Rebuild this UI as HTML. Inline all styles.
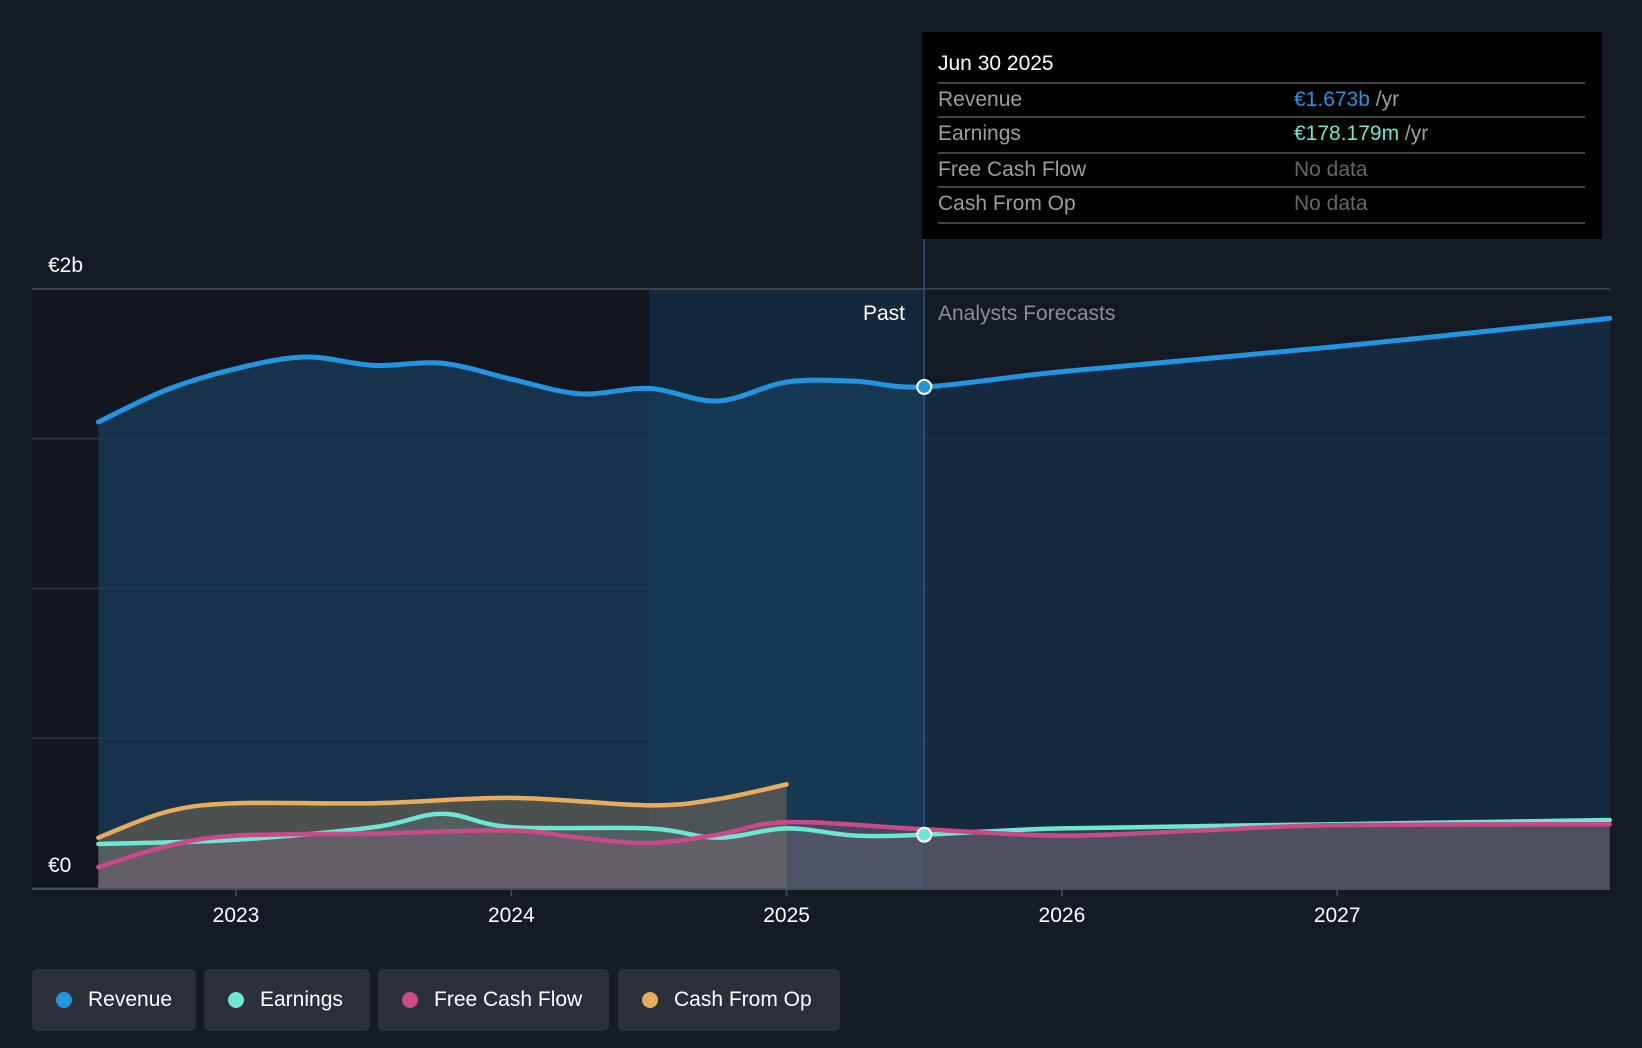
<!DOCTYPE html>
<html><head><meta charset="utf-8"><style>
html,body{margin:0;padding:0;background:#151b24;width:1642px;height:1048px;overflow:hidden;font-family:"Liberation Sans",sans-serif}
svg{position:absolute;left:0;top:0}
.leg{position:absolute;top:969px;height:62px;background:#2a2f39;border-radius:5px;color:#fff;font-size:21px;line-height:62px;box-sizing:border-box;padding-left:56px}
.leg i{position:absolute;left:24px;top:23px;width:16px;height:16px;border-radius:50%}
</style></head><body>
<svg id="chart" width="1642" height="1048"></svg>
<div class="leg" style="left:32px;width:164px"><i style="background:#2394df"></i>Revenue</div>
<div class="leg" style="left:204px;width:166px"><i style="background:#6ee6d2"></i>Earnings</div>
<div class="leg" style="left:378px;width:231px"><i style="background:#c94a86"></i>Free Cash Flow</div>
<div class="leg" style="left:618px;width:222px"><i style="background:#e8ac5e"></i>Cash From Op</div>
<script>
const revT=[2022.5,2022.75,2023,2023.25,2023.5,2023.75,2024,2024.25,2024.5,2024.75,2025,2025.25,2025.5,2026,2027,2027.99];
const revV=[1.556,1.664,1.734,1.773,1.745,1.752,1.699,1.650,1.668,1.626,1.689,1.692,1.673,1.724,1.808,1.902];
const earnT=[2022.5,2023,2023.5,2023.75,2024,2024.5,2024.75,2025,2025.25,2025.5,2026,2027,2027.99];
const earnV=[0.147,0.161,0.203,0.248,0.203,0.199,0.168,0.199,0.175,0.178,0.199,0.213,0.227];
const fcfT=[2022.5,2022.75,2023,2023.5,2024,2024.25,2024.5,2024.75,2025,2025.5,2026,2026.5,2027,2027.99];
const fcfV=[0.07,0.14,0.175,0.182,0.192,0.168,0.150,0.178,0.220,0.196,0.175,0.192,0.21,0.213];
const cfoT=[2023-0.5,2022.75,2023,2023.5,2024,2024.5,2024.75,2025];
const cfoV=[0.168,0.255,0.283,0.283,0.301,0.276,0.297,0.346];
const yTicks=[0,0.5,1,1.5,2];
const xTicks=[2023,2024,2025,2026,2027];
const NS='http://www.w3.org/2000/svg';
const svg=document.getElementById('chart');
const X=t=>236+(t-2023)*275.3;
const Y=v=>888-v*299.5;
function el(tag,a,txt){const e=document.createElementNS(NS,tag);for(const k in a)e.setAttribute(k,a[k]);if(txt!=null)e.textContent=txt;svg.appendChild(e);return e;}
function path(T,V){const p=T.map((t,i)=>[X(t),Y(V[i])]);let d='M'+p[0][0]+','+p[0][1];
for(let i=0;i<p.length-1;i++){const p0=p[i-1]||p[i],p1=p[i],p2=p[i+1],p3=p[i+2]||p2;
d+=` C${p1[0]+(p2[0]-p0[0])/6},${p1[1]+(p2[1]-p0[1])/6} ${p2[0]-(p3[0]-p1[0])/6},${p2[1]-(p3[1]-p1[1])/6} ${p2[0]},${p2[1]}`;}return d;}
const defs=el('defs',{});
defs.innerHTML='<linearGradient id="gr" x1="0" y1="0" x2="0" y2="1"><stop offset="0" stop-color="#1d4d75" stop-opacity=".85"/><stop offset="1" stop-color="#1d4d75" stop-opacity=".55"/></linearGradient><linearGradient id="gf" x1="0" y1="0" x2="0" y2="1"><stop offset="0" stop-color="#1a2a3c"/><stop offset="1" stop-color="#2a3444"/></linearGradient>';
// past dark area
let r=el('rect',{x:32,y:289,width:X(2025.5)-32,height:599,fill:'#12161f'});
r=el('rect',{x:X(2024.5),y:289,width:X(2025.5)-X(2024.5),height:599,fill:'#13283b'});
// grid
yTicks.forEach(v=>{const g=el('line',{x1:32,x2:1610,y1:Y(v),y2:Y(v),stroke:v==2?'#4a505a':'#2c3644','stroke-width':1.5});});
// revenue area
const rp=path(revT,revV);
let a=el('path',{d:rp+` L${X(revT[revT.length-1])},888 L${X(revT[0])},888Z`,fill:'#1a3d5c','fill-opacity':.75});
a=el('rect',{x:X(2025.5),y:289,width:1610-X(2025.5),height:599,fill:'#151b24','fill-opacity':.35});

// other areas
[[cfoT,cfoV,'#a98a55',.35,'cash-from-op-area'],[earnT,earnV,'#6a8a86',.25,'earnings-area'],[fcfT,fcfV,'#7a6070',.45,'free-cash-flow-area']].forEach(s=>{
const e=el('path',{d:path(s[0],s[1])+` L${X(s[0][s[0].length-1])},888 L${X(s[0][0])},888Z`,fill:s[2],'fill-opacity':s[3]});
});
// lines
[[cfoT,cfoV,'#e8ac5e','cash-from-op-line'],[earnT,earnV,'#6ee6d2','earnings-line'],[fcfT,fcfV,'#c94a86','free-cash-flow-line'],[revT,revV,'#2394df','revenue-line']].forEach(s=>{
const e=el('path',{d:path(s[0],s[1]),fill:'none',stroke:s[2],'stroke-width':s[3]=='revenue-line'?5:4.5,'stroke-linecap':'round'});
});
// divider
let d=el('line',{x1:X(2025.5),x2:X(2025.5),y1:239,y2:888,stroke:'#2a5478','stroke-width':1.5});
// axis
d=el('line',{x1:32,x2:1610,y1:889,y2:889,stroke:'#4a505a','stroke-width':2});
xTicks.forEach(t=>{const tk=el('line',{x1:X(t),x2:X(t),y1:889,y2:896,stroke:'#4a505a','stroke-width':1.5});
const l=el('text',{x:X(t),y:922,fill:'#fff','font-size':21,'text-anchor':'middle'},t);});
let t=el('text',{x:48,y:272,fill:'#fff','font-size':21},'€2b');
t=el('text',{x:48,y:872,fill:'#fff','font-size':21},'€0');
t=el('text',{x:905,y:320,fill:'#fff','font-size':21,'text-anchor':'end'},'Past');
t=el('text',{x:938,y:320,fill:'#8a8f98','font-size':21},'Analysts Forecasts');
// markers
let c=el('circle',{cx:X(2025.5),cy:Y(revV[12]),r:7,fill:'#2394df',stroke:'#fff','stroke-width':2});
c=el('circle',{cx:X(2025.5),cy:Y(earnV[9]),r:7,fill:'#6ee6d2',stroke:'#fff','stroke-width':2});
// tooltip
r=el('rect',{x:922,y:32,width:680,height:207,fill:'#000'});
t=el('text',{x:938,y:70,fill:'#fff','font-size':21},'Jun 30 2025');
[83,117,153,187,223].forEach(y=>{const l=el('line',{x1:938,x2:1585,y1:y,y2:y,stroke:'#444','stroke-width':2});});
const rows=[['Revenue','€1.673b','#2394df',' /yr',106],['Earnings','€178.179m','#6ee6d2',' /yr',140],['Free Cash Flow','No data','#666','',176],['Cash From Op','No data','#666','',210]];
rows.forEach(rw=>{const l=el('text',{x:938,y:rw[4],fill:'#9a9ea5','font-size':21},rw[0]);
const v=el('text',{x:1294,y:rw[4],fill:rw[2],'font-size':21},rw[1]);
if(rw[3]){const ts=document.createElementNS(NS,'tspan');ts.setAttribute('fill','#9a9ea5');ts.textContent=rw[3];v.appendChild(ts);}});
</script>
</body></html>
